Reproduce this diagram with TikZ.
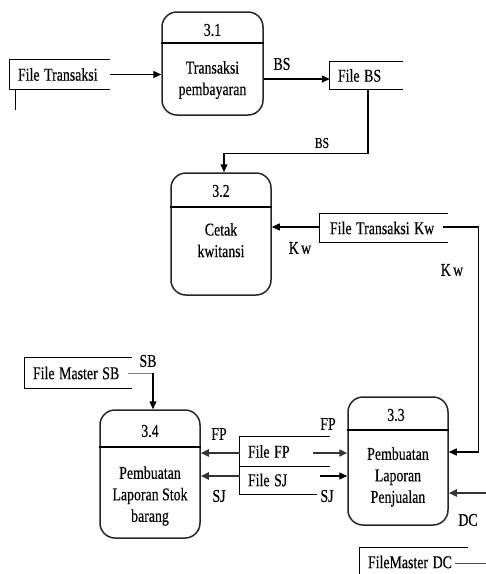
\documentclass[tikz,border=0pt]{standalone}
\usepackage{fontspec}
\newfontfamily\dfdfont[FakeBold=0.4]{Liberation Serif}
\usetikzlibrary{arrows.meta,calc}
\newcommand\nar[1]{\scalebox{0.77}[1]{#1}}
\newcommand\narml[1]{\scalebox{0.77}[1]{\begin{tabular}{@{}c@{}}#1\end{tabular}}}
\begin{document}
\begin{tikzpicture}[x=1pt,y=-1pt,
  every node/.style={font=\dfdfont\fontsize{18}{21.5}\selectfont, inner sep=0pt},
  proc/.style={draw=black!85, line width=1.5pt, rounded corners=15pt, minimum width=100pt},
  store/.style={draw=none, inner xsep=8pt, align=left},
  sline/.style={line width=1.3pt, black},
  arr/.style={line width=1.3pt, -{Triangle[length=8pt,width=7pt]}},
  tarr/.style={line width=2.4pt, black!80, -{Triangle[length=8pt,width=7pt]}}
]
\useasboundingbox (0,0) rectangle (486,574);

% processes
\node[proc, minimum width=101pt, minimum height=103pt] (p31) at (212.5,63.5) {};
\node[proc, minimum height=122pt] (p32) at (221,234) {};
\node[proc, minimum height=128pt] (p33) at (398,461) {};
\node[proc, minimum height=128pt] (p34) at (150,474) {};
\draw[line width=1.3pt] (p31.west |- 0,43) -- (p31.east |- 0,43);
\draw[line width=1.3pt] (p32.west |- 0,207) -- (p32.east |- 0,207);
\draw[line width=1.3pt] (p33.west |- 0,430) -- (p33.east |- 0,430);
\draw[line width=1.3pt] (p34.west |- 0,447) -- (p34.east |- 0,447);
\node (n31) at (212.5,30) {\nar{3.1}};
\node (n32) at (221,191) {\nar{3.2}};
\node (n33) at (396,415) {\nar{3.3}};
\node (n34) at (150,431) {\nar{3.4}};
\node (t31) at (212.5,80) {\narml{Transaksi\\pembayaran}};
\node (t32) at (221,242) {\narml{Cetak\\kwitansi}};
\node (t33) at (398,477) {\narml{Pembuatan\\Laporan\\Penjualan}};
\node (t34) at (150,496) {\narml{Pembuatan\\Laporan Stok\\barang}};

% stores
\node[store, minimum width=100pt, minimum height=29pt, text width=84pt] (ft) at (60,74.5) {\nar{File Transaksi}};
\draw[sline] (ft.north east) -- (ft.north west) -- (ft.south west) -- (ft.south east);
\draw[sline] ($(ft.south west)+(6,0)$) -- ++(0,21);

\node[store, minimum width=73pt, minimum height=27pt, text width=57pt] (fbs) at (366.5,75.5) {\nar{File BS}};
\draw[sline] (fbs.north east) -- (fbs.north west) -- (fbs.south west) -- (fbs.south east);

\node[store, minimum width=128pt, minimum height=28pt, text width=108pt, inner xsep=10pt] (ftk) at (384,228) {\nar{File Transaksi Kw}};
\draw[sline] (ftk.north east) -- (ftk.north west) -- (ftk.south west) -- (ftk.south east);

\node[store, minimum width=107pt, minimum height=30pt, text width=91pt] (fsb) at (78.5,373) {\nar{File Master SB}};
\draw[sline] (fsb.north east) -- (fsb.north west) -- (fsb.south west) -- (fsb.south east);

\node[store, minimum width=90pt, minimum height=29pt, text width=74pt] (ffp) at (285,451.5) {\nar{File FP}};
\node[store, minimum width=77pt, minimum height=28pt, text width=61pt] (fsj) at (278.5,480) {\nar{File SJ}};
\draw[sline] (ffp.north east) -- (ffp.north west) -- (fsj.south west) -- (fsj.south east);
\draw[sline] (ffp.south west) -- (ffp.south east);

\node[store, minimum width=108pt, minimum height=28pt, text width=92pt] (fdc) at (414,562) {\nar{FileMaster DC}};
\draw[sline] (fdc.north east) -- (fdc.north west) -- (fdc.west |- 0,574);

% helper coordinates
\coordinate (dcin) at (486,493);
\coordinate (dcout) at (486,563);
\coordinate (bsstart) at ($(p31.east)+(0,15.5)$);
\coordinate (bsdown) at ($(fbs.south)+(1.5,0)$);
\coordinate (p32top) at ($(p32.north)+(3,0)$);
\coordinate (kwl) at ($(ftk.west)+(0,-1)$);
\coordinate (kwr) at ($(ftk.east)+(-5,-1)$);
\coordinate (p33kw) at ($(p33.east)+(0,-9)$);
\coordinate (dcs) at ($(fdc.east)+(-13,1)$);
\coordinate (sbs) at ($(fsb.east)+(-4,0)$);
\coordinate (sbturn) at (153,373);
\coordinate (fpl) at ($(ffp.west)+(0,1.5)$);
\coordinate (sjl) at ($(fsj.west)+(0,-4)$);
\coordinate (fpr) at ($(ffp.east)+(-17,1.5)$);
\coordinate (sjr) at ($(fsj.east)+(3,-4)$);

% flows
\draw[arr] (ft.east) -- (ft.east -| p31.west);
\draw[arr] (bsstart) -- (bsstart -| fbs.west);
\node (lbs1) at (282,64) {\nar{BS}};
\draw[arr] (bsdown) -- ++(0,64) -| (p32top);
\node[font=\dfdfont\fontsize{15}{16}\selectfont] (lbs2) at (322,143) {\nar{BS}};
\draw[arr] (kwl) -- (kwl -| p32.east);
\node (lkw1) at (300,248) {\nar{K\,w}};
\draw[arr] (kwr) -- ++(35,0) |- (p33kw);
\node (lkw2) at (452,270) {\nar{K\,w}};
\draw[tarr] (dcin) -- (dcin -| p33.east);
\node (ldc) at (468,520) {\nar{DC}};
\draw[line width=0.8pt, black!70] (dcs) -- (dcout);

\draw[line width=0.6pt, black!50] (sbs) -- (sbturn);
\draw[arr] (sbturn) -- (sbturn |- p34.north);
\node (lsb) at (148,361) {\nar{SB}};

\draw[tarr] (fpl) -- (fpl -| p34.east);
\draw[tarr] (sjl) -- (sjl -| p34.east);
\draw[tarr] (fpr) -- (fpr -| p33.west);
\draw[arr] (sjr) -- (sjr -| p33.west);
\node (lfp1) at (219,434) {\nar{FP}};
\node (lsj1) at (219,496) {\nar{SJ}};
\node (lfp2) at (328,424) {\nar{FP}};
\node (lsj2) at (327,496) {\nar{SJ}};
\end{tikzpicture}
\end{document}
